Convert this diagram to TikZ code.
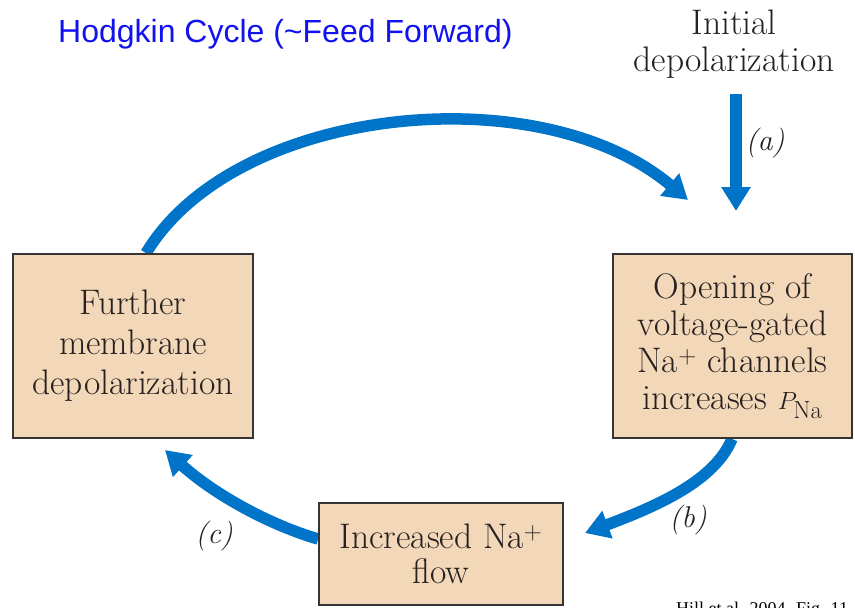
\documentclass[tikz,border=0pt]{standalone}
\usepackage{fontspec}
\newfontfamily\titlefont{Liberation Sans}
\newfontfamily\citefont{Liberation Serif}
\usetikzlibrary{arrows.meta,calc}

\definecolor{boxfill}{RGB}{243,215,185}
\definecolor{boxline}{RGB}{55,52,52}
\definecolor{ink}{RGB}{38,33,32}
\definecolor{flowblue}{RGB}{0,116,200}
\definecolor{titleblue}{RGB}{18,18,238}

\pgfdeclarelayer{bg}
\pgfsetlayers{bg,main}

\tikzset{
  cyclebox/.style={draw=boxline, line width=1.8pt, fill=boxfill, text=ink,
    align=center, inner sep=0pt, font=\fontsize{35.5}{40}\selectfont},
  flowarrow/.style={draw=flowblue, line width=11.5pt,
    -{Triangle[width=28pt,length=24pt]}},
  steplabel/.style={text=ink, font=\fontsize{30}{31}\selectfont\itshape},
}

\begin{document}
\begin{tikzpicture}[x=1pt,y=-1pt]
\useasboundingbox (0,0) rectangle (855,608);

% title and citation
\node[anchor=base west, text=titleblue, inner sep=0pt,
      font=\titlefont\fontsize{32}{36}\selectfont] (title) at (58,42)
  {Hodgkin Cycle (\textasciitilde Feed Forward)};
\node[anchor=base west, text=black, inner sep=0pt,
      font=\citefont\fontsize{18}{20}\selectfont] (cite) at (676,614)
  {Hill et al. 2004. Fig. 11};

% the three stages of the cycle
\node[cyclebox, minimum width=240pt, minimum height=184pt] (further) at (133,346)
  {Further\\membrane\\depolarization};
\node[cyclebox, minimum width=239pt, minimum height=184pt,
      font=\fontsize{35.5}{37}\selectfont] (opening) at (732.5,346)
  {Opening of\\voltage-gated\\Na\textsuperscript{+} channels\\increases $P_{\mathrm{Na}}$};
\node[cyclebox, minimum width=244pt, minimum height=102pt,
      font=\fontsize{35.5}{35}\selectfont] (flow) at (441,554)
  {Increased Na\textsuperscript{+}\\flow};

% external trigger
\node[text=ink, align=center, inner sep=0pt,
      font=\fontsize{35.5}{37}\selectfont] (init) at (734,44)
  {Initial\\depolarization};

% free ends of the arrows
\coordinate (ashaft) at (736,94);
\coordinate (atip) at (736,211);
\coordinate (arctip) at (688,200);
\coordinate (btip) at (585,533);
\coordinate (ctip) at (165,450);

% step labels
\node[steplabel] (la) at (765,143) {(a)};
\node[steplabel] (lb) at (688,520) {(b)};
\node[steplabel] (lc) at (214,536) {(c)};

\begin{pgfonlayer}{bg}
  % (a) initial depolarization opens the channels
  \draw[flowarrow] (ashaft) -- (atip);
  % positive feedback arc back to the channels
  \draw[flowarrow] ($(further.north)+(13,0)$)
    .. controls (235,105) and (540,75) .. (arctip);
  % (b) channel opening raises sodium flow
  \draw[flowarrow] ($(opening.south)+(-0.5,0)$)
    .. controls (715,480) and (660,505) .. (btip);
  % (c) sodium flow depolarizes the membrane further
  \draw[flowarrow] ($(flow.west)+(0,-15)$)
    .. controls (270,525) and (215,495) .. (ctip);
\end{pgfonlayer}
\end{tikzpicture}
\end{document}
